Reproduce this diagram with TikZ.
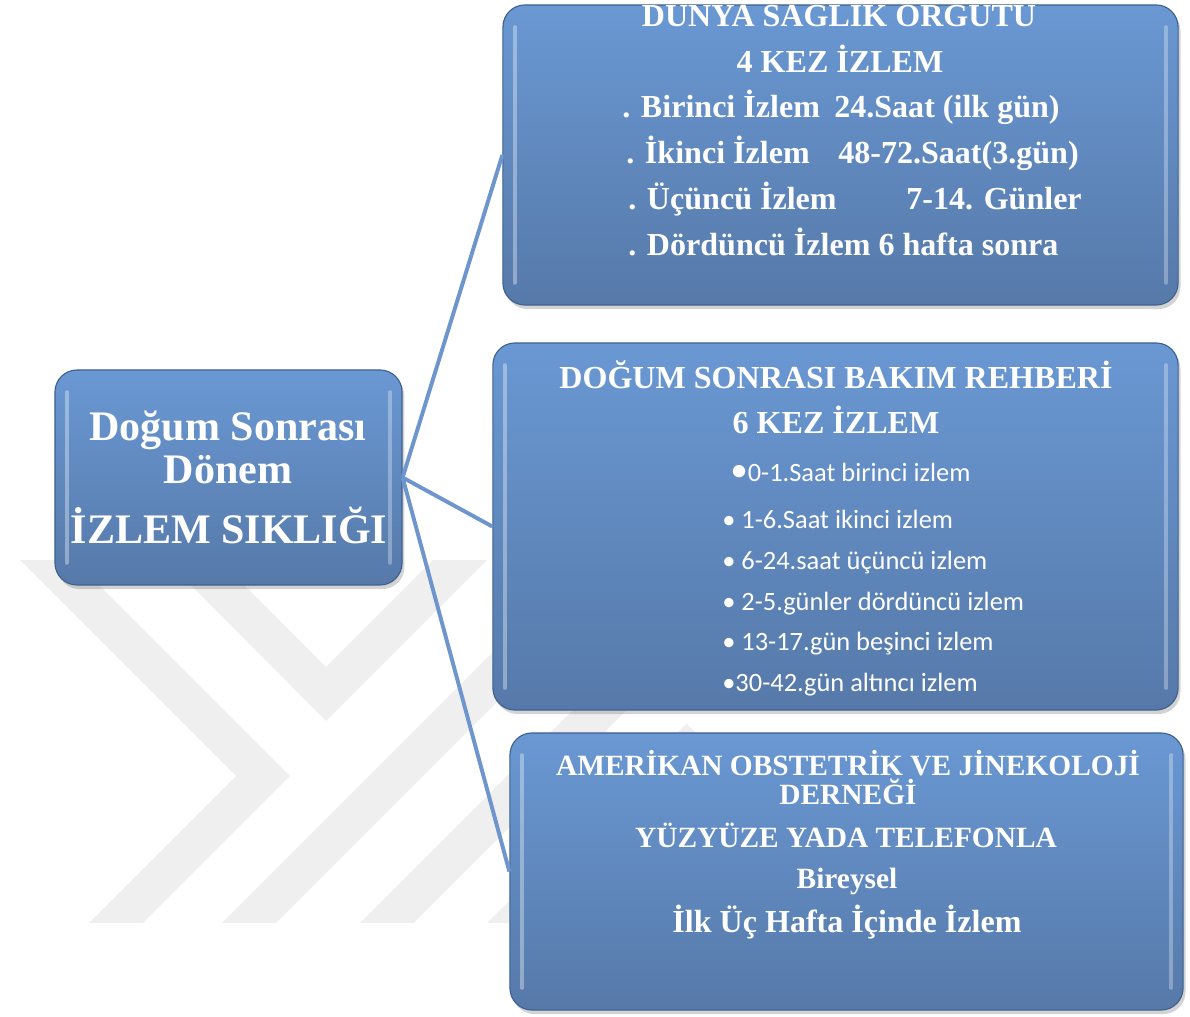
\documentclass[tikz,border=0pt]{standalone}
\usepackage{fontspec}
\setmainfont{Liberation Serif}
\newfontfamily\calibri{Carlito}
\usetikzlibrary{shadows}
\definecolor{boxtop}{HTML}{6A98D3}
\definecolor{boxbot}{HTML}{5679A9}
\definecolor{boxline}{HTML}{3F6190}
\definecolor{linkblue}{HTML}{6F96CC}
\definecolor{wmgray}{HTML}{EFEFEF}

\begin{document}
\begin{tikzpicture}[x=0.025cm, y=-0.025cm,
    panel/.style={rectangle, rounded corners=0.55cm, draw=boxline, thick, top color=boxtop, bottom color=boxbot,
      drop shadow={opacity=0.35, shadow xshift=0.06cm, shadow yshift=-0.1cm},
      path picture={
        \draw[white, opacity=0.35, line width=2.5pt, line cap=round]
          ([shift={(0.3cm,-0.55cm)}]path picture bounding box.north west) --
          ([shift={(0.3cm,0.55cm)}]path picture bounding box.south west);
        \draw[white, opacity=0.3, line width=2.5pt, line cap=round]
          ([shift={(-0.3cm,-0.55cm)}]path picture bounding box.north east) --
          ([shift={(-0.3cm,0.55cm)}]path picture bounding box.south east);}},
    head/.style={anchor=base, inner sep=0pt, text=white, font=\bfseries\fontsize{22.8}{26}\selectfont},
    caps/.style={anchor=base, inner sep=0pt, text=white, font=\bfseries\fontsize{20.9}{24}\selectfont},
    big/.style={anchor=base, inner sep=0pt, text=white, font=\bfseries\fontsize{29.9}{34}\selectfont},
    item/.style={anchor=base west, inner sep=0pt, text=white, font=\bfseries\fontsize{22.8}{26}\selectfont},
    dot/.style={anchor=base west, inner sep=0pt, text=white, font=\calibri\fontsize{18.8}{22}\selectfont},
    link/.style={draw=linkblue, line width=2.8pt}
  ]
  \useasboundingbox (0,0) rectangle (1190,1017);

  % watermark
  \begin{scope}
    \clip (0,560) rectangle (700,922);
    \draw[wmgray, line width=0.95cm, line join=miter] (7,520) -- (263,776) -- (87,952);
    \draw[wmgray, line width=0.95cm, line join=miter] (153,520) -- (326,694) -- (560,460);
    \draw[wmgray, line width=0.95cm] (220,952) -- (640,532);
    \draw[wmgray, line width=0.95cm] (358,952) -- (700,610);
    \draw[wmgray, line width=0.95cm] (485,952) -- (700,737);
  \end{scope}

  % boxes
  \node[panel, minimum width=8.675cm, minimum height=5.375cm]  (donem)  at (228.5,477.5) {};
  \node[panel, minimum width=16.875cm, minimum height=7.5cm]   (dso)    at (840.5,155)   {};
  \node[panel, minimum width=17.125cm, minimum height=9.175cm] (rehber) at (835.5,526.5) {};
  \node[panel, minimum width=16.825cm, minimum height=6.925cm] (acog)   at (846.5,871.5) {};

  \draw[link] (donem.east) -- (dso.west);
  \draw[link] (donem.east) -- (rehber.west);
  \draw[link] (donem.east) -- (acog.west);

  % left
  \node[big] (d1) at (228,440) {Doğum Sonrası};
  \node[big] (d2) at (228,483) {Dönem};
  \node[big] (d3) at (229,543) {İZLEM SIKLIĞI};

  % top
  \node[head] (s1) at (839,27) {DÜNYA SAĞLIK ÖRGÜTÜ};
  \node[head] (s2) at (840,73) {4 KEZ İZLEM};
  \node[item] (s3a) at (622,118) {. Birinci İzlem};
  \node[item] (s3b) at (834,118) {24.Saat (ilk gün)};
  \node[item] (s4a) at (626,164) {. İkinci İzlem};
  \node[item] (s4b) at (838,164) {48-72.Saat(3.gün)};
  \node[item] (s5a) at (628,210) {. Üçüncü İzlem};
  \node[item] (s5b) at (906,210) {7-14. Günler};
  \node[item] (s6)  at (628,256) {. Dördüncü İzlem 6 hafta sonra};

  % middle
  \node[head] (r1) at (836,388) {DOĞUM SONRASI BAKIM REHBERİ};
  \node[head] (r2) at (836,433) {6 KEZ İZLEM};
  \node[dot] (r3) at (730,481) {{\fontsize{25}{25}\selectfont•}0-1.Saat birinci izlem};
  \node[dot] (r4) at (722,528) {• 1-6.Saat ikinci izlem};
  \node[dot] (r5) at (722,569) {• 6-24.saat üçüncü izlem};
  \node[dot] (r6) at (722,610) {• 2-5.günler dördüncü izlem};
  \node[dot] (r7) at (722,650) {• 13-17.gün beşinci izlem};
  \node[dot] (r8) at (722,691) {•30-42.gün altıncı izlem};

  % bottom
  \node[caps] (a1) at (848,775) {AMERİKAN OBSTETRİK VE JİNEKOLOJİ};
  \node[caps] (a2) at (848,804) {DERNEĞİ};
  \node[caps] (a3) at (846,847) {YÜZYÜZE YADA TELEFONLA};
  \node[caps] (a4) at (847,888) {Bireysel};
  \node[head] (a5) at (847,932) {İlk Üç Hafta İçinde İzlem};
\end{tikzpicture}
\end{document}
